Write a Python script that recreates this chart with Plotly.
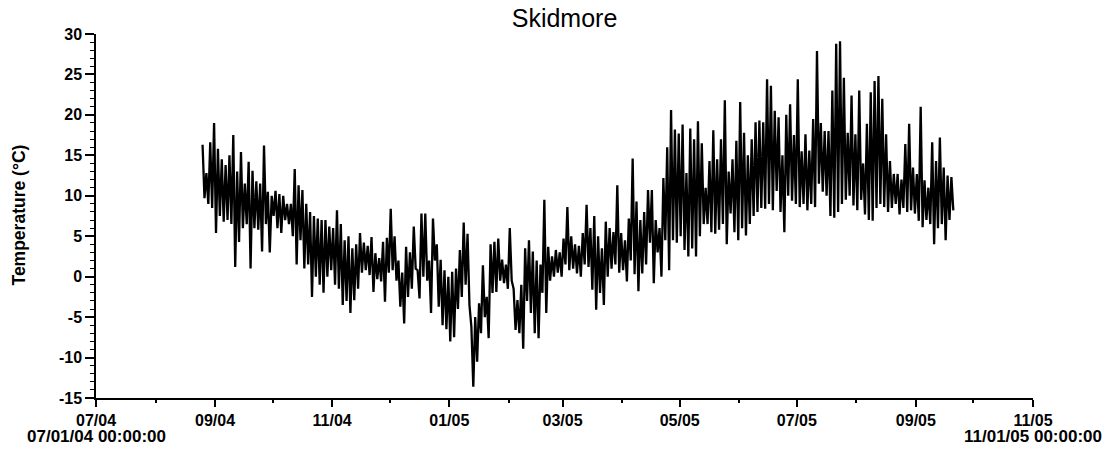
import pandas as pd
import plotly.graph_objects as go

# ---- data ----
# two-day steps starting 2004-08-25; each step has a high and a low reading (deg C)
start_date = "2004-08-25"
step_days = 2

temp_high = [
    16.3, 12.8, 16.6, 19.0, 15.8, 14.5, 13.8, 15.0, 17.5, 13.0,
    15.4, 11.5, 14.2, 13.1, 11.8, 11.5, 16.2, 10.5, 10.0, 10.6,
    10.2, 10.0, 9.0, 9.0, 13.3, 11.3, 10.7, 9.0, 8.0, 7.5,
    7.2, 7.0, 7.0, 6.2, 6.0, 8.2, 6.5, 4.5, 5.0, 3.5,
    4.0, 5.4, 4.2, 3.8, 4.9, 2.9, 2.3, 4.3, 4.8, 8.4,
    5.0, 2.0, 0.5, 3.7, 3.0, 6.2, 0.8, 7.8, 7.8, 2.0,
    7.2, 4.0, 2.1, 0.8, 0.0, 0.6, 1.0, 3.3, 6.7, 5.3,
    -6.2, -5.0, -3.3, 1.4, -2.5, 4.0, 4.3, 4.7, 2.1, 1.5,
    6.0, -1.5, -2.9, -1.0, 3.5, 4.5, 3.1, 2.0, 1.5, 9.5,
    3.7, 2.5, 3.3, 3.0, 4.7, 8.6, 5.0, 4.0, 3.8, 5.4,
    8.9, 6.0, 7.5, 5.0, 3.5, 6.8, 6.0, 5.5, 11.3, 5.4,
    4.5, 7.2, 14.6, 9.3, 7.0, 8.0, 10.7, 10.7, 7.0, 6.0,
    12.2, 16.0, 20.6, 18.2, 17.7, 18.8, 12.8, 18.3, 17.0, 19.2,
    16.5, 11.0, 14.3, 18.1, 14.5, 17.0, 21.8, 13.0, 14.5, 16.8,
    21.6, 17.8, 15.0, 17.0, 19.1, 19.3, 19.1, 24.4, 23.6, 20.5,
    19.7, 15.0, 20.0, 21.3, 17.5, 24.4, 15.5, 17.6, 15.6, 19.5,
    27.9, 19.0, 18.0, 18.0, 23.0, 28.8, 29.1, 24.6, 17.8, 22.4,
    17.6, 23.0, 14.0, 18.9, 22.8, 24.2, 24.8, 22.0, 17.6, 14.3,
    12.7, 12.7, 12.0, 16.4, 18.9, 13.5, 12.7, 21.0, 11.9, 11.0,
    16.6, 14.3, 17.2, 13.5, 12.5, 12.3,
]

temp_low = [
    9.7, 9.0, 8.5, 5.4, 7.5, 6.8, 7.0, 6.5, 1.2, 4.3,
    6.0, 6.5, 1.0, 6.0, 5.8, 3.1, 6.5, 3.0, 7.5, 6.0,
    5.4, 7.0, 6.5, 5.0, 1.5, 4.5, 1.0, 1.5, -2.5, 0.0,
    -1.0, -2.0, 0.0, 0.8, -1.0, -1.5, -3.5, -3.0, -4.5, -2.9,
    -1.5, 0.5, 0.8, 0.2, -1.9, -0.3, -0.6, -3.1, 0.5, 0.8,
    -0.5, -3.7, -5.8, -2.5, -1.5, 1.0, -2.7, 0.0, -0.5, -4.5,
    2.0, -3.7, -6.0, -6.5, -8.0, -7.5, -4.0, -2.5, -1.0, -3.5,
    -13.6, -10.5, -7.0, -5.0, -7.6, -2.0, -1.9, -0.5, -0.8, -1.5,
    -0.5, -6.6, -7.0, -8.9, -3.0, -4.5, -7.0, -7.6, -2.0, -4.5,
    -0.5, 0.0, 0.5, 0.0, 1.5, 0.8, 1.0, 0.4, 0.0, 1.5,
    1.2, -1.6, -4.1, -2.0, -3.5, 0.0, 1.0, 1.5, 0.5, 0.8,
    -0.6, 2.0, 0.3, -1.8, 0.4, 1.5, 4.2, -0.8, 3.0, 0.0,
    4.5, 0.8, 4.5, 4.2, 5.0, 3.3, 2.5, 3.5, 2.5, 5.0,
    6.5, 6.5, 5.5, 5.3, 5.8, 6.5, 4.0, 7.8, 5.5, 4.5,
    6.0, 5.1, 6.5, 7.5, 8.0, 8.5, 8.4, 9.0, 8.2, 10.6,
    8.0, 5.5, 10.0, 9.4, 9.0, 8.6, 9.0, 8.2, 9.0, 8.6,
    11.5, 10.5, 10.0, 7.5, 7.3, 8.0, 9.0, 9.5, 10.0, 8.8,
    8.2, 9.5, 7.7, 7.0, 6.9, 8.5, 9.0, 8.6, 8.0, 8.5,
    9.0, 7.7, 8.5, 8.0, 8.2, 7.8, 6.9, 6.1, 7.0, 6.5,
    4.0, 6.0, 6.5, 4.5, 7.0, 8.2,
]

major_tick_dates = ["2004-07-01", "2004-09-01", "2004-11-01", "2005-01-01", "2005-03-01",
                    "2005-05-01", "2005-07-01", "2005-09-01", "2005-11-01"]
major_tick_text = ["07/04", "09/04", "11/04", "01/05", "03/05",
                   "05/05", "07/05", "09/05", "11/05"]
range_start_label = "07/01/04 00:00:00"
range_end_label = "11/01/05 00:00:00"
minor_tick_dates = ["2004-08-01", "2004-10-01", "2004-12-01", "2005-02-01",
                    "2005-04-01", "2005-06-01", "2005-08-01", "2005-10-01"]
y_tick_vals = [-15, -10, -5, 0, 5, 10, 15, 20, 25, 30]
y_tick_text = ["-15", "-10", "-5", "0", "5", "10", "15", "20", "25", "30"]

# ---- build the logged series: high then low within each two-day step ----
assert len(temp_high) == len(temp_low)
base = pd.Timestamp(start_date)
times, temps = [], []
for i, (h, l) in enumerate(zip(temp_high, temp_low)):
    t0 = base + pd.Timedelta(days=step_days * i)
    times.append(t0 + pd.Timedelta(hours=12))
    temps.append(h)
    times.append(t0 + pd.Timedelta(hours=36))
    temps.append(l)

FONT = "Liberation Sans, Arial, sans-serif"

fig = go.Figure()
fig.add_trace(go.Scatter(x=times, y=temps, mode="lines",
                         line=dict(color="black", width=2.3),
                         hoverinfo="skip", showlegend=False))

fig.update_layout(
    width=1111, height=450,
    margin=dict(l=96, r=78, t=34, b=52, autoexpand=False),
    paper_bgcolor="white", plot_bgcolor="white",
    title=dict(text="Skidmore", x=0.5, xref="paper", xanchor="center",
               y=1 - 18 / 450, yref="container", yanchor="middle",
               font=dict(family=FONT, size=25, color="black")),
    showlegend=False,
)

fig.update_xaxes(
    type="date", automargin=False,
    range=["2004-07-01", "2005-11-01"],
    tickmode="array", tickvals=major_tick_dates, ticktext=major_tick_text,
    ticks="outside", ticklen=7, tickwidth=1.5, tickcolor="black",
    tickfont=dict(family=FONT, size=16, color="black", weight="bold"),
    showline=True, linecolor="black", linewidth=1.5,
    showgrid=False, zeroline=False,
    minor=dict(tickmode="array", tickvals=minor_tick_dates, ticks="outside",
               ticklen=3, tickwidth=1.5, tickcolor="black", showgrid=False),
)

fig.update_yaxes(
    automargin=False,
    range=[-15, 30],
    tickmode="array", tickvals=y_tick_vals, ticktext=y_tick_text,
    ticks="outside", ticklen=9, tickwidth=1.5, tickcolor="black",
    tickfont=dict(family=FONT, size=16, color="black", weight="bold"),
    showline=True, linecolor="black", linewidth=1.5,
    showgrid=False, zeroline=False,
    minor=dict(dtick=1, tick0=0, ticks="outside", ticklen=4, tickwidth=1,
               tickcolor="black", showgrid=False),
)

# second-line date labels under the first and last ticks
for xv, txt in [(major_tick_dates[0], range_start_label), (major_tick_dates[-1], range_end_label)]:
    fig.add_annotation(
        text=txt, x=xv, xref="x", y=-(436.5 - 398) / 364, yref="paper",
        xanchor="center", yanchor="middle", showarrow=False,
        font=dict(family=FONT, size=17, color="black", weight="bold"),
    )

fig.add_annotation(
    text="Temperature (°C)", textangle=-90,
    xref="paper", yref="paper",
    x=(18.5 - 96) / 937, y=(398 - 215) / 364,
    xanchor="center", yanchor="middle", showarrow=False,
    font=dict(family=FONT, size=17.5, color="black", weight="bold"),
)

fig.write_html("out.html")
